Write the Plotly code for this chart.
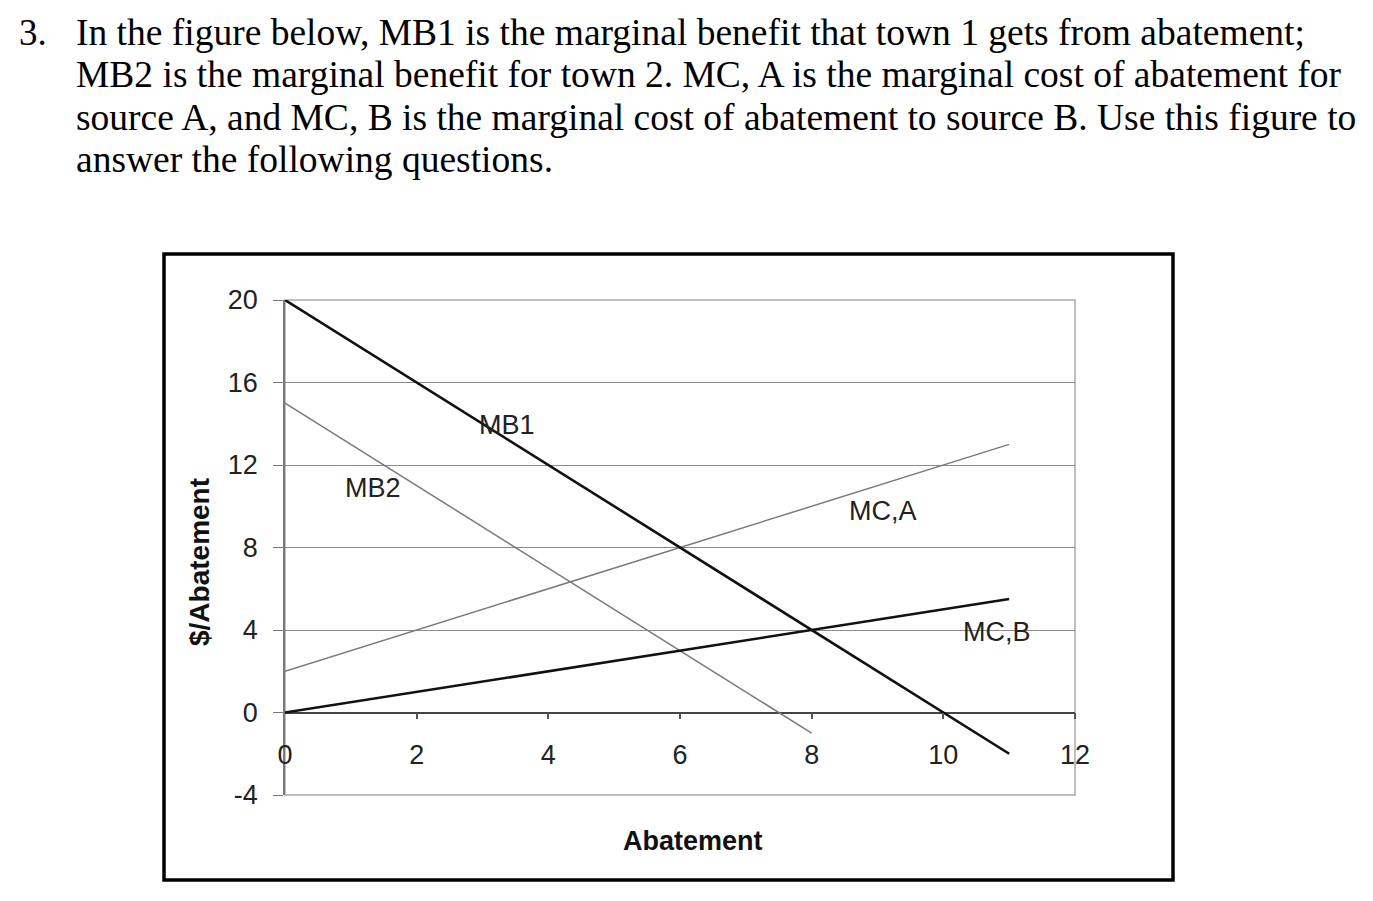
import plotly.graph_objects as go

# page body has an 8px default margin, so the figure is sized to fit inside the window
OFF = 8
W, H = 1373 - 2 * OFF, 901 - 2 * OFF
def px(x): return (x - OFF) / W
def py(y): return 1 - (y - OFF) / H

# ---- data ----
mb1_x = [0, 11]; mb1_y = [20, -2]
mb2_x = [0, 8];  mb2_y = [15, -1]
mca_x = [0, 11]; mca_y = [2, 13]
mcb_x = [0, 11]; mcb_y = [0, 5.5]
x_ticks = [0, 2, 4, 6, 8, 10, 12]
y_ticks = [-4, 0, 4, 8, 12, 16, 20]
y_tick_text = ["-4", "0", "4", "8", "12", "16", "20"]
curve_labels = ["MB1", "MB2", "MC,A", "MC,B"]
label_x = [3.37, 1.34, 9.08, 10.82]
label_y = [13.96, 10.9, 9.79, 3.9]

heading = [
    "In the figure below, MB1 is the marginal benefit that town 1 gets from abatement;",
    "MB2 is the marginal benefit for town 2. MC, A is the marginal cost of abatement for",
    "source A, and MC, B is the marginal cost of abatement to source B. Use this figure to",
    "answer the following questions.",
]

fig = go.Figure()
fig.add_trace(go.Scatter(x=mb2_x, y=mb2_y, mode="lines", line=dict(color="#7a7a7a", width=1.5), name="MB2"))
fig.add_trace(go.Scatter(x=mca_x, y=mca_y, mode="lines", line=dict(color="#7a7a7a", width=1.5), name="MC,A"))
fig.add_trace(go.Scatter(x=mb1_x, y=mb1_y, mode="lines", line=dict(color="#111111", width=2.6), name="MB1"))
fig.add_trace(go.Scatter(x=mcb_x, y=mcb_y, mode="lines", line=dict(color="#111111", width=2.6), name="MC,B"))
# invisible helper on the tick axis
fig.add_trace(go.Scatter(x=[0], y=[0], xaxis="x2", mode="markers", marker=dict(opacity=0), hoverinfo="skip"))

sans = "Liberation Sans, Arial"
for t, xx, yy in zip(curve_labels, label_x, label_y):
    fig.add_annotation(x=xx, y=yy, text=t, showarrow=False,
                       font=dict(family=sans, size=27, color="#222"))

fig.update_layout(
    template="none",
    width=W, height=H, autosize=False,
    margin=dict(l=0, r=0, t=0, b=0, pad=0, autoexpand=False),
    paper_bgcolor="white", plot_bgcolor="white", showlegend=False,
    xaxis=dict(domain=[px(285), px(1075)], range=[0, 12], anchor="free", position=py(736),
               automargin=False,
               tickvals=x_ticks, ticks="", showline=False, showgrid=False, zeroline=False,
               tickfont=dict(family=sans, size=27, color="#222")),
    xaxis2=dict(overlaying="x", range=[0, 12], anchor="free", position=py(712), automargin=False,
                tickvals=x_ticks[1:], ticks="outside", ticklen=6, tickcolor="#555", tickwidth=1.5,
                showticklabels=False, showline=False, showgrid=False, zeroline=False),
    yaxis=dict(domain=[py(795), py(300)], range=[-4, 20], tickvals=y_ticks, ticktext=y_tick_text,
               automargin=False,
               showgrid=True, gridcolor="#8c8c8c", gridwidth=1.3,
               zeroline=True, zerolinecolor="#444", zerolinewidth=2,
               showline=True, linecolor="#7a7a7a", linewidth=1.5,
               ticks="outside", ticklen=10, tickcolor="#7a7a7a", tickwidth=1.3,
               ticklabelstandoff=10,
               tickfont=dict(family=sans, size=27, color="#222")),
)

# plot-area frame and outer box
fig.add_shape(type="rect", xref="x domain", yref="y domain", x0=0, x1=1, y0=0, y1=1,
              line=dict(color="#ababab", width=1.5), layer="below")
fig.add_shape(type="rect", xref="paper", yref="paper", x0=px(164), x1=px(1173), y0=py(880), y1=py(254),
              line=dict(color="black", width=3.5))

# axis titles
fig.add_annotation(xref="paper", yref="paper", x=px(199), y=py(562), text="<b>$/Abatement</b>",
                   textangle=-90, showarrow=False, xanchor="center", yanchor="middle",
                   font=dict(family=sans, size=28, color="#111"))
fig.add_annotation(xref="paper", yref="paper", x=px(693), y=py(841), text="<b>Abatement</b>",
                   showarrow=False, xanchor="center", yanchor="middle",
                   font=dict(family=sans, size=27, color="#111"))

# heading
serif = "Liberation Serif, Times New Roman"
line_y = [32, 75, 117, 159]
fig.add_annotation(xref="paper", yref="paper", x=px(17), y=py(line_y[0]), text="3.",
                   xanchor="left", yanchor="middle",
                   showarrow=False, font=dict(family=serif, size=37, color="black"))
for line, yy in zip(heading, line_y):
    fig.add_annotation(xref="paper", yref="paper", x=px(74), y=py(yy), text=line,
                       xanchor="left", yanchor="middle",
                       showarrow=False, font=dict(family=serif, size=37.5, color="black"))

fig.write_html("out.html")
